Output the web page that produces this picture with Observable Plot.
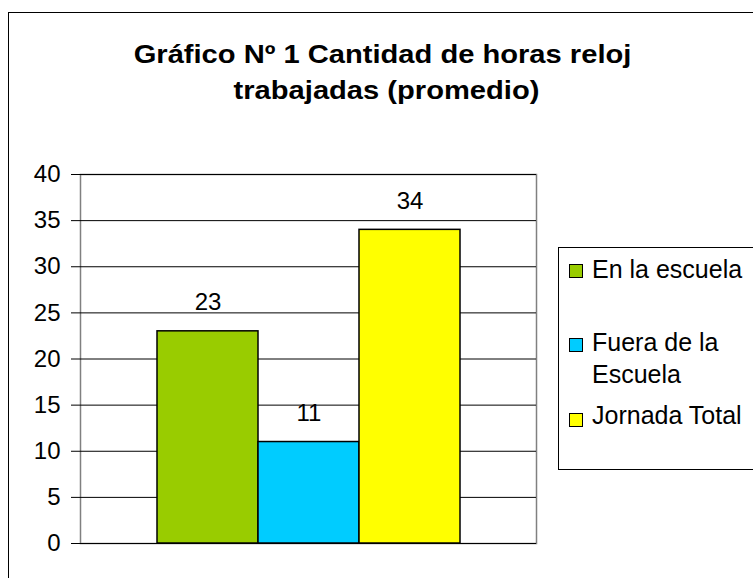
<!DOCTYPE html>
<html><head><meta charset="utf-8">
<script src="https://cdn.jsdelivr.net/npm/d3@7"></script>
<script src="https://cdn.jsdelivr.net/npm/@observablehq/plot@0.6"></script>
<style>
body{margin:0;background:#fff;font-family:Arial,"Liberation Sans",sans-serif;}
#wrap{position:relative;width:753px;height:578px;overflow:hidden;background:#fff;}
#chart{position:absolute;left:0;top:0;}
#border{position:absolute;left:8px;top:12px;width:900px;height:800px;border:1px solid #000;}
.tline{position:absolute;top:0;text-align:center;font-weight:bold;font-size:26px;line-height:36px;white-space:nowrap;transform:scaleX(1.12);color:#000;}
#legend{position:absolute;left:558px;top:247px;width:260px;height:221px;border:1px solid #000;background:#fff;}
.item{position:absolute;left:10px;width:200px;}
.sw{position:absolute;left:0;width:14px;height:14px;box-sizing:border-box;border:1.5px solid #000;}
.lab{position:absolute;left:23px;width:160px;font-size:25px;line-height:32px;color:#000;}
</style>
</head><body>
<div id="wrap">
  <div id="chart"></div>
  <div id="border"></div>
  <div class="tline" style="left:0;width:765px;top:36px">Gráfico Nº 1 Cantidad de horas reloj</div>
  <div class="tline" style="left:0;width:773px;top:72px">trabajadas (promedio)</div>
  <div id="legend"></div>
</div>
<script>
const series = ["En la escuela", "Fuera de la Escuela", "Jornada Total"];
const valores = [23, 11, 34];
const colores = ["#99CC00", "#00CCFF", "#FFFF00"];
const yTicks = [0, 5, 10, 15, 20, 25, 30, 35, 40];

const rows = series.map((s, i) => ({serie: s, valor: valores[i]}));

const chart = Plot.plot({
  width: 753,
  height: 578,
  marginLeft: 80,
  marginRight: 217,
  marginTop: 174,
  marginBottom: 35,
  style: {background: "transparent", fontFamily: "Arial, 'Liberation Sans', sans-serif", color: "#000"},
  x: {domain: series, range: [156, 460], padding: 0, axis: null},
  y: {domain: [0, 40]},
  color: {domain: series, range: colores},
  marks: [
    Plot.frame({stroke: "#808080", strokeWidth: 1.5}),
    Plot.gridY(yTicks, {stroke: "#000", strokeOpacity: 1}),
    Plot.axisY(yTicks, {tickSize: 9, tickPadding: 11, fontSize: 24, label: null}),
    Plot.barY(rows, {x: "serie", y: "valor", fill: "serie", stroke: "#000", strokeWidth: 1.5}),
    Plot.text(rows, {x: "serie", y: "valor", text: d => String(d.valor), dy: -29, fontSize: 24, fill: "#000"})
  ]
});
document.getElementById("chart").appendChild(chart);

// legend
const legend = document.getElementById("legend");
const itemTops = [5, 78, 151];
const swatchOffsets = [11, 12, 14];
series.forEach((s, i) => {
  const it = document.createElement("div");
  it.className = "item";
  it.style.top = itemTops[i] + "px";
  const sw = document.createElement("div");
  sw.className = "sw";
  sw.style.top = swatchOffsets[i] + "px";
  sw.style.background = colores[i];
  const lab = document.createElement("div");
  lab.className = "lab";
  lab.textContent = s;
  it.appendChild(sw);
  it.appendChild(lab);
  legend.appendChild(it);
});
</script>
</body></html>
